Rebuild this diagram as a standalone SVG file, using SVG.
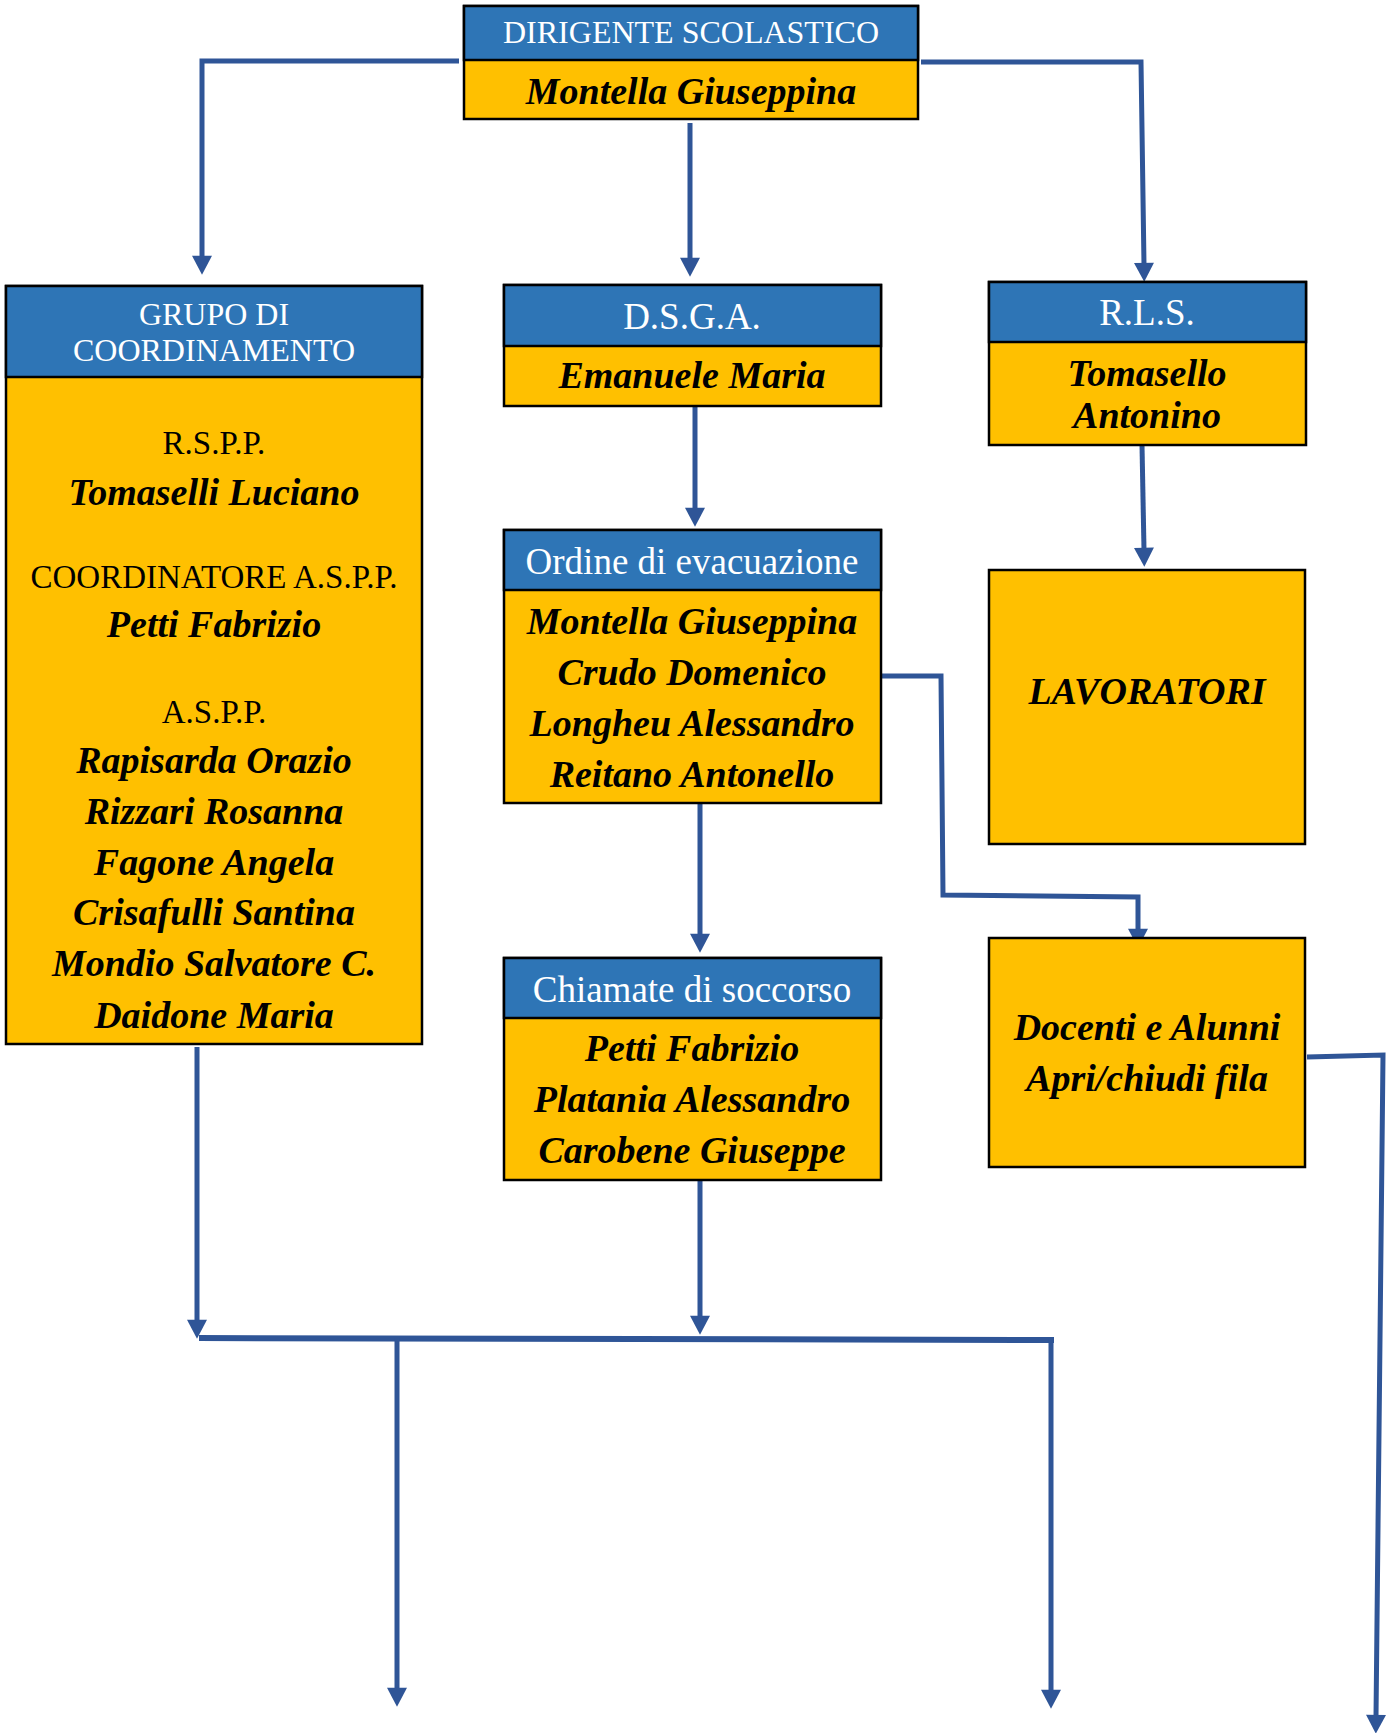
<svg xmlns="http://www.w3.org/2000/svg" width="1389" height="1733" viewBox="0 0 1389 1733">
<style>
.box{fill:#FFC000;stroke:#000;stroke-width:2.5}
.hdr{fill:#2E75B6;stroke:#000;stroke-width:2.5}
.ht{font-family:"Liberation Serif",serif;fill:#fff;text-anchor:middle}
.nm{font-family:"Liberation Serif",serif;font-weight:bold;font-style:italic;font-size:38px;fill:#000;text-anchor:middle}
.rl{font-family:"Liberation Serif",serif;font-size:33px;fill:#000;text-anchor:middle}
.c{fill:none;stroke:#2F5597;stroke-width:5;stroke-linejoin:miter}
</style>
<defs>
<marker id="ah" markerUnits="userSpaceOnUse" markerWidth="20" markerHeight="20" viewBox="0 0 17 18" refX="2" refY="9" orient="auto">
<path d="M0,0 L17,9 L0,18 z" fill="#2F5597"/>
</marker>
</defs>
<rect width="1389" height="1733" fill="#fff"/>

<g id="connectors">
<path class="c" d="M459 61 H202 V258" marker-end="url(#ah)"/>
<path class="c" d="M690 123 V260" marker-end="url(#ah)"/>
<path class="c" d="M921 62 L1141 62 L1144 265" marker-end="url(#ah)"/>
<path class="c" d="M695 406 V510" marker-end="url(#ah)"/>
<path class="c" d="M1142 445 L1144 550" marker-end="url(#ah)"/>
<path class="c" d="M882 676 L941 676 L943 895 L1138 897 L1138 931" marker-end="url(#ah)"/>
<path class="c" d="M700 801 V936" marker-end="url(#ah)"/>
<path class="c" d="M197 1047 V1322" marker-end="url(#ah)"/>
<path class="c" d="M700 1181 V1318" marker-end="url(#ah)"/>
<path class="c" d="M199 1338 L1054 1340" style="stroke-width:6"/>
<path class="c" d="M397 1338 V1690" marker-end="url(#ah)"/>
<path class="c" d="M1051 1339 V1692" marker-end="url(#ah)"/>
<path class="c" d="M1307 1057 L1383 1055 L1376 1717" marker-end="url(#ah)"/>
</g>

<g id="dirigente">
<rect class="box" x="464" y="6" width="454" height="113"/>
<rect class="hdr" x="464" y="6" width="454" height="54"/>
<text class="ht" x="691" y="43" font-size="32">DIRIGENTE SCOLASTICO</text>
<text class="nm" x="691" y="104">Montella Giuseppina</text>
</g>

<g id="gruppo">
<rect class="box" x="6" y="286" width="416" height="758"/>
<rect class="hdr" x="6" y="286" width="416" height="91"/>
<text class="ht" x="214" y="325" font-size="32">GRUPO DI</text>
<text class="ht" x="214" y="361" font-size="32">COORDINAMENTO</text>
<text class="rl" x="214" y="454">R.S.P.P.</text>
<text class="nm" x="214" y="505">Tomaselli Luciano</text>
<text class="rl" x="214" y="588">COORDINATORE A.S.P.P.</text>
<text class="nm" x="214" y="637">Petti Fabrizio</text>
<text class="rl" x="214" y="723">A.S.P.P.</text>
<text class="nm" x="214" y="773">Rapisarda Orazio</text>
<text class="nm" x="214" y="824">Rizzari Rosanna</text>
<text class="nm" x="214" y="875">Fagone Angela</text>
<text class="nm" x="214" y="925">Crisafulli Santina</text>
<text class="nm" x="214" y="976">Mondio Salvatore C.</text>
<text class="nm" x="214" y="1028">Daidone Maria</text>
</g>

<g id="dsga">
<rect class="box" x="504" y="285" width="377" height="121"/>
<rect class="hdr" x="504" y="285" width="377" height="61"/>
<text class="ht" x="692" y="329" font-size="37">D.S.G.A.</text>
<text class="nm" x="692" y="388">Emanuele Maria</text>
</g>

<g id="rls">
<rect class="box" x="989" y="282" width="317" height="163"/>
<rect class="hdr" x="989" y="282" width="317" height="60"/>
<text class="ht" x="1147" y="325" font-size="37">R.L.S.</text>
<text class="nm" x="1147" y="386">Tomasello</text>
<text class="nm" x="1147" y="428">Antonino</text>
</g>

<g id="ordine">
<rect class="box" x="504" y="530" width="377" height="273"/>
<rect class="hdr" x="504" y="530" width="377" height="60"/>
<text class="ht" x="692" y="574" font-size="37">Ordine di evacuazione</text>
<text class="nm" x="692" y="634">Montella Giuseppina</text>
<text class="nm" x="692" y="685">Crudo Domenico</text>
<text class="nm" x="692" y="736">Longheu Alessandro</text>
<text class="nm" x="692" y="787">Reitano Antonello</text>
</g>

<g id="chiamate">
<rect class="box" x="504" y="958" width="377" height="222"/>
<rect class="hdr" x="504" y="958" width="377" height="60"/>
<text class="ht" x="692" y="1002" font-size="37">Chiamate di soccorso</text>
<text class="nm" x="692" y="1061">Petti Fabrizio</text>
<text class="nm" x="692" y="1112">Platania Alessandro</text>
<text class="nm" x="692" y="1163">Carobene Giuseppe</text>
</g>

<g id="lavoratori">
<rect class="box" x="989" y="570" width="316" height="274"/>
<text class="nm" x="1147" y="704">LAVORATORI</text>
</g>

<g id="docenti">
<rect class="box" x="989" y="938" width="316" height="229"/>
<text class="nm" x="1147" y="1040">Docenti e Alunni</text>
<text class="nm" x="1147" y="1091">Apri/chiudi fila</text>
</g>
</svg>
